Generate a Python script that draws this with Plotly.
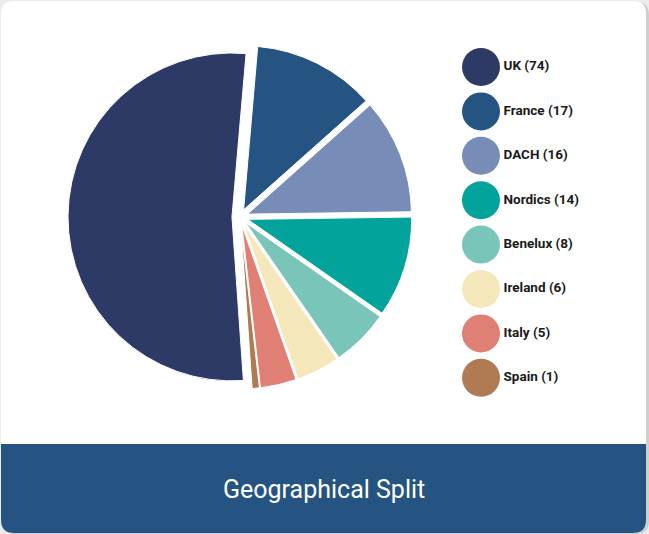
import plotly.graph_objects as go

# ---- data ----
regions = ["UK", "France", "DACH", "Nordics", "Benelux", "Ireland", "Italy", "Spain"]
counts = [74, 17, 16, 14, 8, 6, 5, 1]
colors = ["#2E3A66", "#255483", "#778DB8", "#02A39B", "#7AC5B9", "#F4E7BA", "#E07F74", "#B07A52"]
pulls = [0.049] * len(regions)
title_text = "Geographical Split"

W, H = 649, 534


def rrect(x0, y0, x1, y1, r, top=True, bottom=True):
    rt = r if top else 0
    rb = r if bottom else 0
    p = f"M {x0+rt},{y0} L {x1-rt},{y0} "
    p += f"Q {x1},{y0} {x1},{y0+rt} " if rt else ""
    p += f"L {x1},{y1-rb} "
    p += f"Q {x1},{y1} {x1-rb},{y1} " if rb else ""
    p += f"L {x0+rb},{y1} "
    p += f"Q {x0},{y1} {x0},{y1-rb} " if rb else ""
    p += f"L {x0},{y0+rt} "
    p += f"Q {x0},{y0} {x0+rt},{y0} " if rt else ""
    return p + "Z"


fig = go.Figure()

# pie: centre (240,217) px, box 344 px
cx, cy, box = 240, 217, 344
fig.add_trace(go.Pie(
    labels=regions, values=counts, sort=False, direction="clockwise", rotation=176,
    pull=pulls, marker=dict(colors=colors, line=dict(color="white", width=1)),
    textinfo="none", hoverinfo="skip", showlegend=False,
    domain=dict(x=[(cx - box / 2) / W, (cx + box / 2) / W],
                y=[1 - (cy + box / 2) / H, 1 - (cy - box / 2) / H]),
))

# custom circular legend
leg_y = [67 + i * 44.4 for i in range(len(regions))]
fig.add_trace(go.Scatter(
    x=[481] * len(regions), y=leg_y, mode="markers",
    marker=dict(size=38, color=colors, line=dict(width=0)),
    hoverinfo="skip", showlegend=False, cliponaxis=False,
))
fig.add_trace(go.Scatter(
    x=[503.5] * len(regions), y=leg_y, mode="text",
    text=[f"{r} ({c})" for r, c in zip(regions, counts)],
    textposition="middle right",
    textfont=dict(family="Roboto", size=13.5, color="#1a1a1a", weight="bold"),
    hoverinfo="skip", showlegend=False, cliponaxis=False,
))

shapes = [
    dict(type="path", path=rrect(3, 2, 649, 534, 13), fillcolor="#cfcfcf", line=dict(width=0), layer="below"),
    dict(type="path", path=rrect(1, 1, 646, 533, 13), fillcolor="white", line=dict(width=0), layer="below"),
    dict(type="path", path=rrect(1, 444, 646, 533, 13, top=False), fillcolor="#255483", line=dict(width=0), layer="below"),
]
for s in shapes:
    s.update(xref="x", yref="y")

fig.update_layout(
    width=W, height=H, margin=dict(l=0, r=0, t=0, b=0),
    paper_bgcolor="#ebebeb", plot_bgcolor="rgba(0,0,0,0)",
    xaxis=dict(range=[0, W], visible=False, fixedrange=True),
    yaxis=dict(range=[H, 0], visible=False, fixedrange=True),
    shapes=shapes,
    annotations=[dict(text=title_text, x=324, y=489, xref="x", yref="y", showarrow=False,
                      font=dict(family="Roboto", size=25, color="white"))],
    showlegend=False,
)

fig.write_html("out.html", config={"displayModeBar": False},
               post_script="document.body.style.margin='0';document.body.style.overflow='hidden';")
